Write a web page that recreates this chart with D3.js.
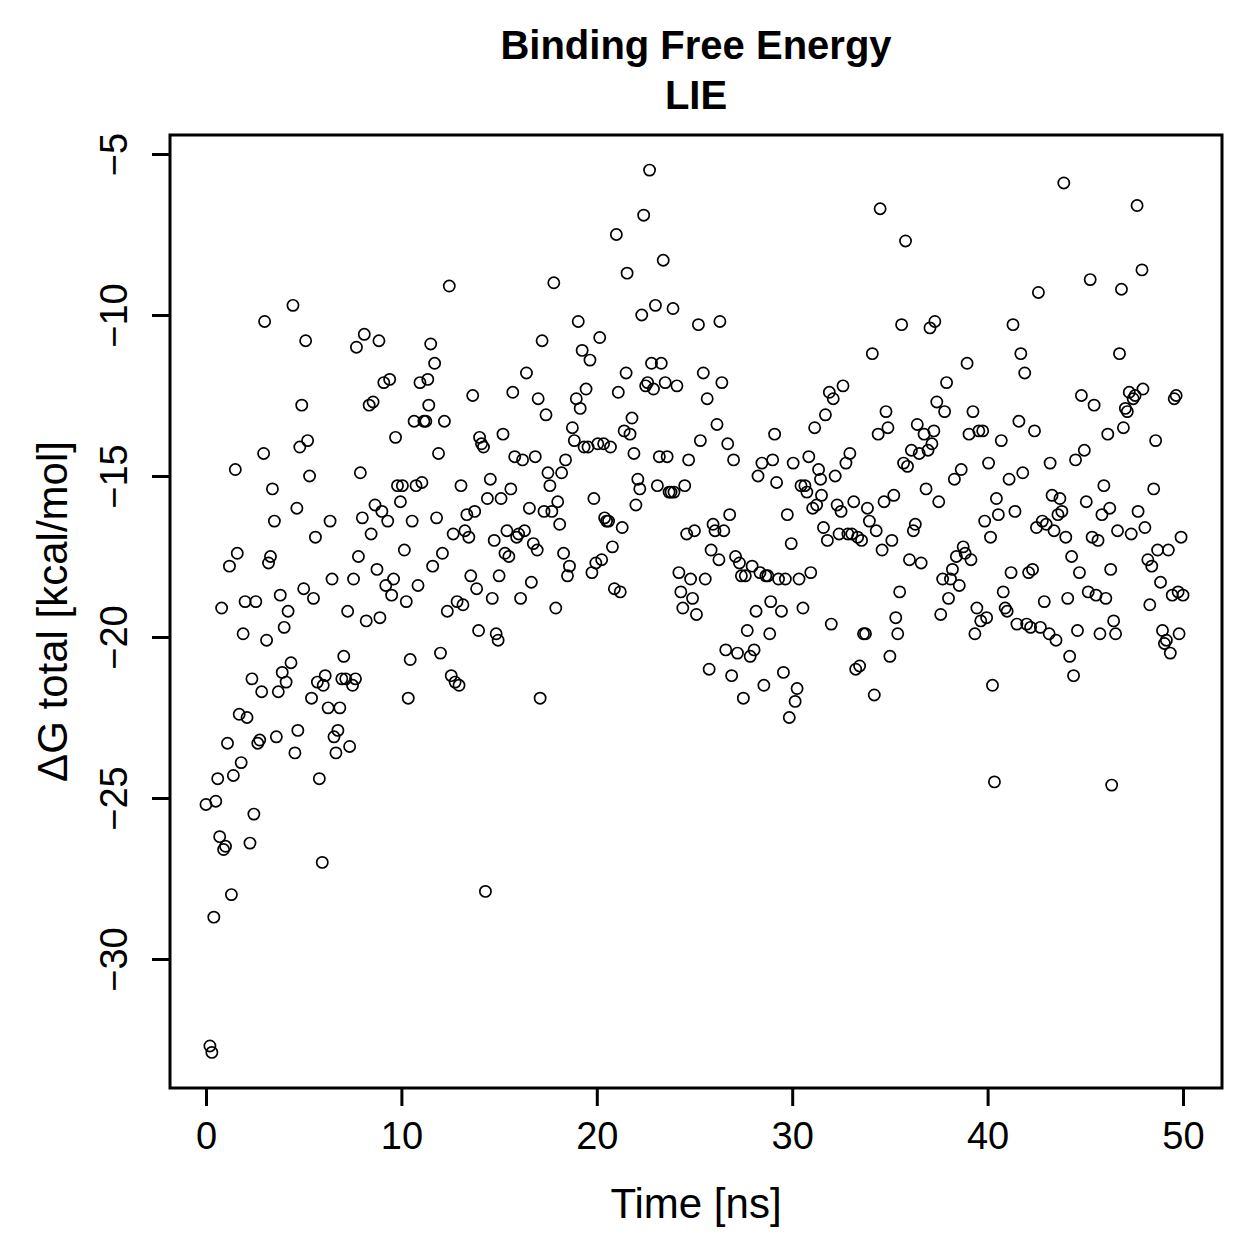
<!DOCTYPE html>
<html>
<head>
<meta charset="utf-8">
<script src="https://cdn.jsdelivr.net/npm/d3@7"></script>
<style>
  html, body { margin: 0; padding: 0; background: #fff; }
  svg { display: block; }
  text { font-family: "Liberation Sans", Arial, Helvetica, sans-serif; fill: #000; }
</style>
</head>
<body>
<div id="chart"></div>
<script>
const titleLines = ["Binding Free Energy", "LIE"];
const xLabel = "Time [ns]";
const yLabel = "\u0394G total [kcal/mol]";
const xTicks = [0, 10, 20, 30, 40, 50];
const yTicks = [-5, -10, -15, -20, -25, -30];

const time = [
  0.0,0.2,0.3,0.4,0.5,0.6,0.7,0.8,0.9,1.0,
  1.1,1.2,1.3,1.4,1.5,1.6,1.7,1.8,1.9,2.0,
  2.1,2.25,2.35,2.45,2.55,2.65,2.75,2.85,2.95,3.0,
  3.1,3.2,3.3,3.4,3.5,3.6,3.7,3.8,3.9,4.0,
  4.1,4.2,4.35,4.45,4.55,4.65,4.7,4.8,4.9,5.0,
  5.1,5.2,5.3,5.4,5.5,5.6,5.7,5.8,5.95,6.0,
  6.1,6.25,6.35,6.45,6.55,6.65,6.75,6.85,6.95,7.05,
  7.15,7.25,7.35,7.5,7.55,7.65,7.7,7.8,7.9,8.0,
  8.1,8.2,8.35,8.45,8.55,8.65,8.75,8.85,8.9,9.0,
  9.1,9.2,9.3,9.4,9.5,9.6,9.7,9.8,9.95,10.05,
  10.15,10.25,10.35,10.45,10.55,10.65,10.75,10.85,10.95,11.05,
  11.15,11.25,11.35,11.4,11.5,11.6,11.7,11.8,11.9,12.0,
  12.1,12.2,12.35,12.45,12.55,12.65,12.75,12.85,12.95,13.05,
  13.15,13.25,13.35,13.45,13.55,13.65,13.75,13.85,13.95,14.0,
  14.1,14.2,14.3,14.4,14.55,14.65,14.75,14.85,14.95,15.0,
  15.1,15.2,15.3,15.4,15.5,15.6,15.7,15.8,15.9,16.0,
  16.1,16.2,16.3,16.4,16.55,16.65,16.75,16.85,16.95,17.0,
  17.1,17.2,17.3,17.4,17.5,17.6,17.7,17.8,17.9,18.0,
  18.1,18.2,18.3,18.4,18.5,18.6,18.75,18.85,18.95,19.05,
  19.15,19.25,19.35,19.45,19.55,19.65,19.75,19.85,19.95,20.05,
  20.15,20.25,20.35,20.4,20.5,20.6,20.7,20.8,20.9,21.0,
  21.1,21.2,21.3,21.4,21.5,21.55,21.7,21.8,21.9,22.0,
  22.1,22.2,22.3,22.4,22.5,22.6,22.7,22.8,22.9,23.0,
  23.1,23.2,23.3,23.4,23.5,23.6,23.7,23.8,23.9,23.95,
  24.1,24.2,24.3,24.4,24.5,24.6,24.7,24.8,24.9,25.0,
  25.1,25.2,25.3,25.45,25.55,25.65,25.75,25.85,25.95,26.05,
  26.15,26.25,26.3,26.4,26.5,26.6,26.7,26.8,26.9,27.0,
  27.1,27.2,27.3,27.4,27.5,27.6,27.7,27.85,27.95,28.05,
  28.15,28.25,28.35,28.45,28.55,28.65,28.75,28.85,28.9,29.0,
  29.1,29.2,29.3,29.45,29.55,29.65,29.75,29.85,29.95,30.05,
  30.15,30.25,30.35,30.45,30.55,30.65,30.75,30.85,30.95,31.05,
  31.15,31.25,31.35,31.45,31.5,31.6,31.7,31.8,31.9,32.0,
  32.1,32.2,32.3,32.4,32.5,32.6,32.75,32.85,32.95,33.05,
  33.15,33.25,33.35,33.45,33.55,33.65,33.75,33.85,33.95,34.1,
  34.2,34.3,34.4,34.5,34.6,34.7,34.8,34.9,35.0,35.1,
  35.2,35.3,35.4,35.5,35.6,35.7,35.8,35.9,36.0,36.1,
  36.2,36.3,36.4,36.5,36.6,36.75,36.85,36.95,37.05,37.15,
  37.25,37.3,37.4,37.5,37.6,37.7,37.8,37.9,38.0,38.1,
  38.2,38.3,38.4,38.55,38.65,38.75,38.85,38.95,39.05,39.15,
  39.25,39.35,39.45,39.55,39.65,39.75,39.85,39.95,40.05,40.15,
  40.25,40.35,40.45,40.55,40.7,40.8,40.9,41.0,41.1,41.2,
  41.3,41.4,41.5,41.6,41.7,41.8,41.9,42.0,42.1,42.2,
  42.3,42.4,42.5,42.6,42.7,42.8,42.9,43.0,43.15,43.2,
  43.3,43.4,43.5,43.6,43.7,43.8,43.9,44.0,44.1,44.2,
  44.3,44.4,44.5,44.6,44.7,44.8,44.95,45.05,45.15,45.25,
  45.35,45.45,45.55,45.65,45.75,45.85,45.95,46.05,46.15,46.25,
  46.3,46.35,46.45,46.55,46.65,46.75,46.85,46.95,47.05,47.15,
  47.25,47.35,47.45,47.55,47.65,47.7,47.9,47.95,48.05,48.2,
  48.3,48.4,48.5,48.6,48.7,48.85,48.95,49.05,49.15,49.25,
  49.35,49.45,49.55,49.65,49.75,49.8,49.9,50.0
];

const dG = [
  -25.2,-32.7,-32.9,-28.7,-25.1,-24.4,-26.2,-19.1,-26.6,-26.5,
  -23.3,-17.8,-28.0,-24.3,-14.8,-17.4,-22.4,-23.9,-19.9,-18.9,
  -22.5,-26.4,-21.3,-25.5,-18.9,-23.3,-23.2,-21.7,-14.3,-10.2,
  -20.1,-17.7,-17.5,-15.4,-16.4,-23.1,-21.7,-18.7,-21.1,-19.7,
  -21.4,-19.2,-20.8,-9.7,-23.6,-16.0,-22.9,-14.1,-12.8,-18.5,
  -10.8,-13.9,-15.0,-21.9,-18.8,-16.9,-21.4,-24.4,-27.0,-21.5,
  -21.2,-22.2,-16.4,-18.2,-23.1,-23.6,-22.9,-22.2,-21.3,-20.6,
  -21.3,-19.2,-23.4,-21.5,-18.2,-21.3,-11.0,-17.5,-14.9,-16.3,
  -10.6,-19.5,-12.8,-16.8,-12.7,-15.9,-17.9,-10.8,-19.4,-16.1,
  -12.1,-18.4,-16.4,-12.0,-18.7,-18.2,-13.8,-15.3,-15.8,-15.3,
  -17.3,-18.9,-21.9,-20.7,-16.4,-13.3,-15.3,-18.4,-12.1,-15.2,
  -13.3,-13.3,-12.0,-12.8,-10.9,-17.8,-11.5,-16.3,-14.3,-20.5,
  -17.4,-13.3,-19.2,-9.1,-21.2,-16.8,-21.4,-18.9,-21.5,-15.3,
  -19.0,-16.7,-16.2,-16.9,-18.1,-12.5,-16.1,-18.5,-19.8,-13.8,
  -14.0,-14.1,-27.9,-15.7,-15.1,-18.8,-17.0,-19.9,-20.1,-18.1,
  -15.7,-13.7,-17.4,-16.7,-17.5,-15.4,-12.4,-14.4,-16.9,-16.8,
  -18.8,-14.5,-16.7,-11.8,-16.0,-18.3,-17.1,-14.4,-17.3,-12.6,
  -21.9,-10.8,-16.1,-13.1,-14.9,-15.3,-16.1,-9.0,-19.1,-15.8,
  -16.5,-14.9,-17.4,-14.5,-18.1,-17.8,-13.5,-13.9,-12.6,-10.2,
  -12.9,-11.1,-14.1,-12.3,-14.1,-11.4,-18.0,-15.7,-17.7,-14.0,
  -10.7,-17.6,-14.0,-16.3,-16.4,-16.4,-14.1,-17.2,-18.5,-7.5,
  -12.4,-18.6,-16.6,-13.6,-11.8,-8.7,-13.7,-13.2,-14.3,-15.9,
  -15.1,-15.4,-10.0,-6.9,-12.2,-12.1,-5.5,-11.5,-12.3,-9.7,
  -15.3,-14.4,-11.5,-8.3,-12.1,-14.4,-15.5,-15.5,-9.8,-15.5,
  -12.2,-18.0,-18.6,-19.1,-15.3,-16.8,-14.5,-18.2,-18.8,-16.7,
  -19.3,-10.3,-13.9,-11.8,-18.2,-12.6,-21.0,-17.3,-16.5,-16.7,
  -13.4,-17.6,-10.2,-12.1,-16.7,-20.4,-14.0,-16.2,-21.2,-14.5,
  -17.5,-20.5,-17.7,-18.1,-21.9,-18.1,-19.8,-20.6,-17.8,-20.4,
  -19.2,-15.0,-18.0,-14.6,-21.5,-18.1,-18.1,-19.9,-18.9,-14.5,
  -13.7,-15.2,-18.2,-19.2,-21.1,-18.2,-16.2,-22.5,-17.1,-14.6,
  -22.0,-21.6,-18.2,-15.3,-19.1,-15.3,-15.5,-14.4,-18.0,-16.0,
  -13.5,-15.9,-14.8,-15.1,-15.6,-16.6,-13.1,-17.0,-12.4,-19.6,
  -12.6,-15.0,-15.9,-16.8,-16.1,-12.2,-14.6,-16.8,-14.3,-16.8,
  -15.8,-21.0,-16.9,-20.9,-17.0,-19.9,-19.9,-16.0,-16.4,-11.2,
  -21.8,-16.7,-13.7,-6.7,-17.3,-15.8,-13.0,-13.5,-20.6,-17.0,
  -15.6,-19.4,-19.9,-18.6,-10.3,-14.6,-7.7,-14.7,-17.6,-14.2,
  -16.7,-16.5,-13.4,-14.3,-17.7,-13.7,-15.4,-14.2,-10.4,-14.0,
  -13.6,-10.2,-12.7,-15.8,-19.3,-18.2,-13.0,-12.1,-18.8,-18.2,
  -17.9,-15.1,-17.5,-18.4,-14.8,-17.2,-17.4,-11.5,-13.7,-17.6,
  -13.0,-19.9,-19.1,-13.6,-19.5,-13.6,-16.4,-19.4,-14.6,-16.9,
  -21.5,-24.5,-15.7,-16.2,-13.9,-18.6,-19.1,-19.2,-15.1,-18.0,
  -10.3,-16.1,-19.6,-13.3,-11.2,-14.9,-11.8,-19.6,-18.0,-19.7,
  -17.9,-13.6,-16.6,-9.3,-19.7,-16.4,-18.9,-16.5,-19.9,-14.6,
  -15.6,-16.7,-20.1,-16.2,-15.7,-16.1,-5.9,-16.9,-18.8,-20.6,
  -17.5,-21.2,-14.5,-19.8,-18.0,-12.5,-14.2,-15.8,-18.6,-8.9,
  -16.9,-12.8,-18.7,-17.0,-19.9,-16.2,-15.3,-18.8,-13.7,-16.0,
  -17.9,-24.6,-19.5,-19.9,-16.7,-11.2,-9.2,-13.5,-12.9,-13.0,
  -12.4,-16.8,-12.6,-12.5,-6.6,-16.1,-8.6,-12.3,-16.6,-17.6,
  -19.0,-17.8,-15.4,-13.9,-17.3,-18.3,-19.8,-20.2,-20.1,-17.3,
  -20.5,-18.7,-12.6,-12.5,-18.6,-19.9,-16.9,-18.7
];

const W = 1259, H = 1259;
const box = { left: 170, right: 1222, top: 135, bottom: 1088 };
const FONT = "'Liberation Sans', Arial, Helvetica, sans-serif";

const svg = d3.select("#chart").append("svg")
  .attr("width", W).attr("height", H)
  .attr("viewBox", `0 0 ${W} ${H}`);

const x = d3.scaleLinear().domain([0, 50]).range([206, 1183]);
const y = d3.scaleLinear().domain([-5, -30]).range([154, 959]);

// points
const pts = time.map((t, i) => ({ t, v: dG[i] }));
svg.append("g").selectAll("circle").data(pts).join("circle")
  .attr("cx", d => x(d.t))
  .attr("cy", d => y(d.v))
  .attr("r", 5.6)
  .attr("fill", "none")
  .attr("stroke", "#000")
  .attr("stroke-width", 1.7);

// box
svg.append("rect")
  .attr("x", box.left).attr("y", box.top)
  .attr("width", box.right - box.left).attr("height", box.bottom - box.top)
  .attr("fill", "none").attr("stroke", "#000").attr("stroke-width", 3);

// x axis
const xAxis = d3.axisBottom(x).tickValues(xTicks).tickSize(18).tickFormat(d3.format("d"));
const gx = svg.append("g").attr("transform", `translate(0,${box.bottom})`).call(xAxis);
gx.select(".domain").remove();
gx.selectAll(".tick line").attr("stroke", "#000").attr("stroke-width", 3);
gx.selectAll(".tick text")
  .attr("y", 0).attr("dy", null)
  .attr("transform", "translate(0,61)")
  .style("font-size", "38px")
  .style("font-family", FONT);

// y axis
const yAxis = d3.axisLeft(y).tickValues(yTicks).tickSize(18).tickFormat(d3.format("d"));
const gy = svg.append("g").attr("transform", `translate(${box.left},0)`).call(yAxis);
gy.select(".domain").remove();
gy.selectAll(".tick line").attr("stroke", "#000").attr("stroke-width", 3);
gy.selectAll(".tick text")
  .attr("x", 0).attr("dy", null).attr("y", 0)
  .attr("text-anchor", "middle")
  .attr("transform", "translate(-43,0) rotate(-90)")
  .style("font-size", "38px")
  .style("font-family", FONT);

// axis titles
svg.append("text")
  .attr("x", (box.left + box.right) / 2).attr("y", 1218)
  .attr("text-anchor", "middle")
  .style("font-size", "42px")
  .text(xLabel);

svg.append("text")
  .attr("transform", `translate(67,${(box.top + box.bottom) / 2}) rotate(-90)`)
  .attr("text-anchor", "middle")
  .style("font-size", "42px")
  .text(yLabel);

// title
const titleY = [59, 109];
svg.append("g").selectAll("text").data(titleLines).join("text")
  .attr("x", (box.left + box.right) / 2)
  .attr("y", (d, i) => titleY[i])
  .attr("text-anchor", "middle")
  .style("font-size", "40px")
  .style("font-weight", "bold")
  .text(d => d);
</script>
</body>
</html>
